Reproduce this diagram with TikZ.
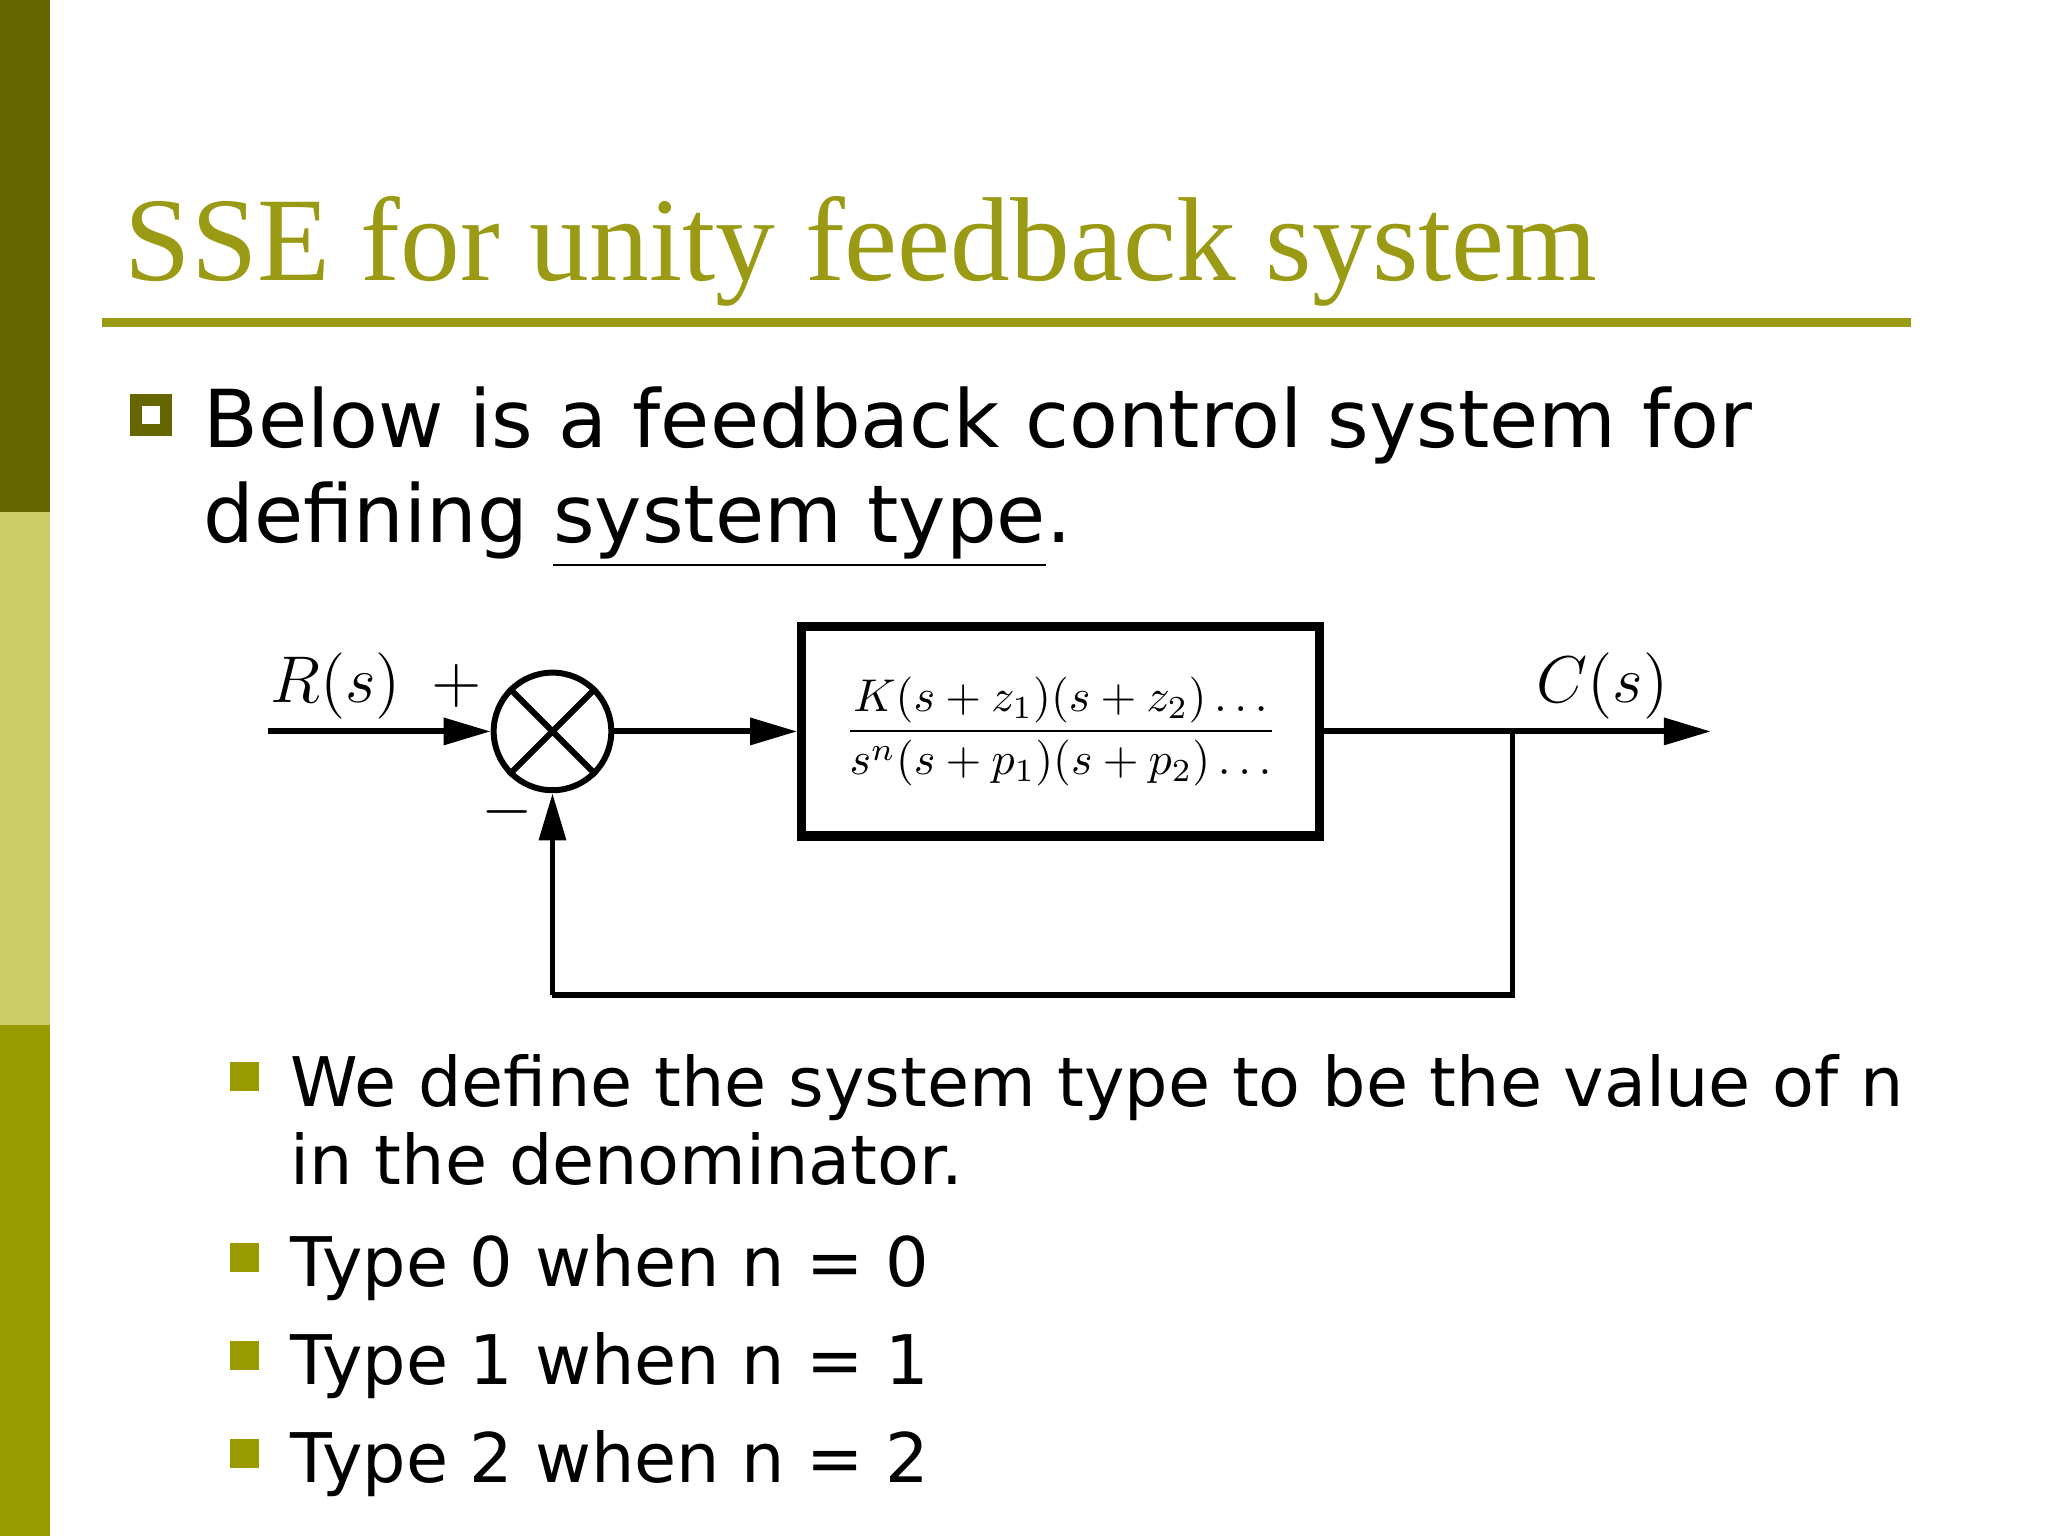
\documentclass[tikz,border=0pt]{standalone}
\usepackage{fontspec}
\setmainfont{Liberation Serif}
\newfontfamily\bodyfont{DejaVu Sans}
\usetikzlibrary{arrows.meta}
\definecolor{darkol}{HTML}{666600}
\definecolor{lightol}{HTML}{CCCC66}
\definecolor{midol}{HTML}{999900}
\definecolor{titleol}{HTML}{9A9A14}
\tikzset{
  sig/.style={line width=1.3pt,-{Triangle[length=0.36cm,width=0.2cm]}},
  wire/.style={line width=1.3pt},
  body/.style={anchor=base west,inner sep=0,font=\bodyfont\fontsize{17.4}{20}\selectfont},
  sub/.style={anchor=base west,inner sep=0,font=\bodyfont\fontsize{14.9}{18}\selectfont},
  lbl/.style={inner sep=0,font=\fontsize{14}{16}\selectfont}
}
\begin{document}
\begin{tikzpicture}[x=0.01cm,y=-0.01cm]
\useasboundingbox (0,0) rectangle (1568,1176);
\fill[darkol] (0,0) rectangle (38,392);
\fill[lightol] (0,392) rectangle (38,785);
\fill[midol] (0,785) rectangle (38,1176);
\node[anchor=base west,inner sep=0,text=titleol,font=\fontsize{26}{30}\selectfont] (title) at (95,215) {SSE for unity feedback system};
\draw[titleol,line width=2pt] (78,247) -- (1463,247);
\draw[darkol,line width=2.6pt] (104,306) rectangle (127,329);
\node[body] (b1) at (155,343) {Below is a feedback control system for};
\node[body] (b2) at (155,415) {defining \underline{system type}.};
% diagram
\coordinate (in) at (205,560);
\node[circle,draw,line width=1.3pt,minimum size=0.9cm,inner sep=0] (sum) at (423,560) {};
\draw[line width=1.3pt] (sum.north west) -- (sum.south east) (sum.north east) -- (sum.south west);
\node[draw,line width=2pt,minimum width=3.96cm,minimum height=1.6cm,inner sep=0] (G) at (812,560) {$\displaystyle\frac{K(s+z_1)(s+z_2)\ldots}{s^n(s+p_1)(s+p_2)\ldots}$};
\coordinate (br) at (1158,560);
\coordinate (out) at (1310,560);
\coordinate (bl) at (1158,762);
\coordinate (bll) at (423,762);
\draw[sig] (in) -- (sum);
\draw[sig] (sum) -- (G);
\draw[sig] (G) -- (out);
\draw[wire] (br) -- (bl) -- (bll);
\draw[sig] (bll) -- (sum);
\node[lbl] (R) at (257,525) {$R(s)$};
\node[lbl] (plus) at (350,525) {$+$};
\node[lbl] (minus) at (388,622) {$-$};
\node[lbl] (C) at (1227,525) {$C(s)$};
% sub bullets
\foreach \y in {824,963,1038,1113}{\fill[midol] (176,\y-11) rectangle (198,\y+11);}
\node[sub] (s1) at (222,847) {We define the system type to be the value of n};
\node[sub] (s2) at (222,907) {in the denominator.};
\node[sub] (s3) at (222,985) {Type 0 when n = 0};
\node[sub] (s4) at (222,1060) {Type 1 when n = 1};
\node[sub] (s5) at (222,1135) {Type 2 when n = 2};
\end{tikzpicture}
\end{document}
